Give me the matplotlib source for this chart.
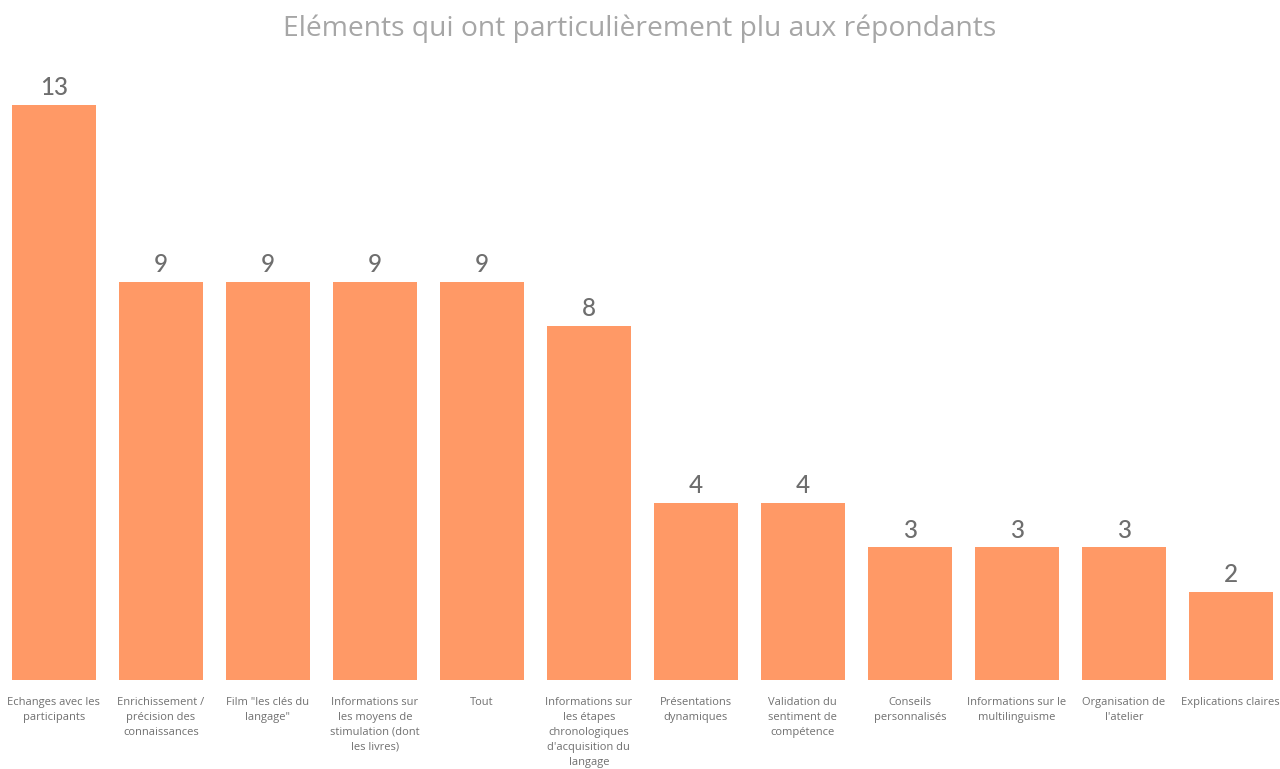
import matplotlib.pyplot as plt

# Data
categories = [
    "Echanges avec les\nparticipants",
    "Enrichissement /\nprécision des\nconnaissances",
    "Film \"les clés du\nlangage\"",
    "Informations sur\nles moyens de\nstimulation (dont\nles livres)",
    "Tout",
    "Informations sur\nles étapes\nchronologiques\nd'acquisition du\nlangage",
    "Présentations\ndynamiques",
    "Validation du\nsentiment de\ncompétence",
    "Conseils\npersonnalisés",
    "Informations sur le\nmultilinguisme",
    "Organisation de\nl'atelier",
    "Explications claires",
]
values = [13, 9, 9, 9, 9, 8, 4, 4, 3, 3, 3, 2]

bar_color = "#FF9966"

fig = plt.figure(figsize=(12.8, 7.69), dpi=100)
ax = fig.add_axes([0.0, 0.1157, 1.0, 0.7478])

x = list(range(len(values)))
bars = ax.bar(x, values, width=0.78, color=bar_color)

ax.set_xlim(-0.504, 11.46)
ax.set_ylim(0, 13)

for xi, v in zip(x, values):
    ax.text(xi, v + 0.13, str(v), ha="center", va="bottom", fontsize=17.5,
            color="#6E6E6E", family="Lato", fontweight="medium", clip_on=False)

ax.set_xticks(x)
ax.set_xticklabels(categories, fontsize=8.0, color="#707070", family="Open Sans",
                   linespacing=1.5, va="top")
ax.tick_params(axis="x", length=0, pad=12)
ax.set_yticks([])
for s in ax.spines.values():
    s.set_visible(False)

fig.text(0.5, 0.962, "Eléments qui ont particulièrement plu aux répondants",
         ha="center", va="center", fontsize=20.3, color="#A6A6A6", family="Open Sans")

fig.savefig("out.png", dpi=100)
